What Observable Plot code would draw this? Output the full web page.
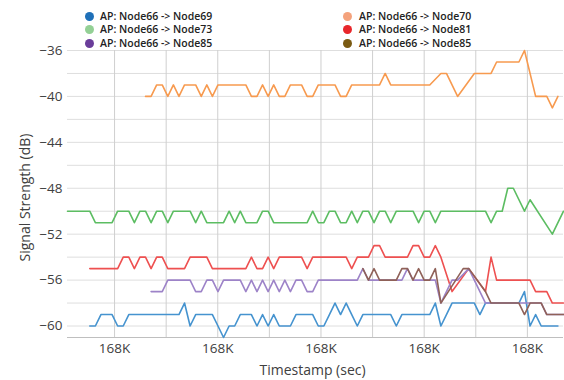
<!DOCTYPE html>
<html><head><meta charset="utf-8">
<script src="https://cdn.jsdelivr.net/npm/d3@7"></script>
<script src="https://cdn.jsdelivr.net/npm/@observablehq/plot@0.6"></script>
<style>
body{margin:0;background:#fff;font-family:"Open Sans",sans-serif;}
#legend{position:relative;width:564px;height:42px;}
.lab{position:absolute;font-size:10.5px;font-weight:600;color:#222;white-space:nowrap;line-height:12px;}
.dot{position:absolute;width:9px;height:9px;border-radius:50%;}
#chart svg{display:block;}
</style></head><body>
<div id="legend"></div>
<div id="chart"></div>
<script>
// Sample timing (sec)
const t0 = 167995.2, dt = 1.08;
const firstSample = -4, lastSample = 85;

const seriesNames = ["AP: Node66 -> Node69","AP: Node66 -> Node70","AP: Node66 -> Node73","AP: Node66 -> Node81","AP: Node66 -> Node85","AP: Node66 -> Node85"];
const lineColors   = ["#4593cf","#f79a4f","#5cbd62","#ee5050","#9d83c8","#8f6158"];
const legendColors = ["#1f70b8","#f4a27c","#93d095","#e8262b","#6a3d9a","#7a5a12"];

// Signal strength (dB), one value per sample; null = no sample
const node69Start = 0;
const node69 = [-60,-60,-59,-59,-59,-60,-60,-59,-59,-59,
 -59,-59,-59,-59,-59,-59,-59,-58,-60,-59,
 -59,-59,-59,-60,-61,-60,-60,-59,-59,-59,
 -60,-59,-60,-59,-60,-60,-60,-59,-59,-59,
 -59,-60,-60,-59,-58,-59,-58,-59,-60,-59,
 -59,-59,-59,-59,-59,-60,-59,-59,-59,-59,
 -59,-59,-58,-60,-59,-58,-58,-58,-58,-58,
 -59,-58,-58,-58,-58,-58,-58,-58,-57,-60,
 -59,-60,-60,-60,-60];
const node70Start = 10;
const node70 = [-40,-40,-39,-39,-40,-39,-40,-39,-39,-39,
 -40,-39,-40,-39,-39,-39,-39,-39,-39,-40,
 -40,-39,-40,-39,-40,-40,-39,-39,-39,-40,
 -40,-39,-39,-39,-39,-40,-40,-39,-39,-39,
 -39,-39,-39,-38,-39,-39,-39,-39,-39,-39,
 -39,-39,null,-38,-38,null,-40,null,null,-38,
 -38,-38,-38,-37,-37,-37,-37,-37,-36,null,
 -40,-40,-40,-41,-40];
const node73Start = -4;
const node73 = [-50,-50,-50,-50,-50,
 -51,-51,-51,-51,-50,-50,-50,-51,-50,-50,
 -51,-50,-50,-51,-50,-50,-50,-50,-51,-50,
 -51,-51,-51,-51,-50,-51,-50,-51,-51,-51,
 -50,-50,-51,-51,-51,-51,-51,-51,-51,-50,
 -51,-51,-50,-50,-51,-51,-50,-51,-50,-50,
 -51,-50,-50,-51,-50,-50,-50,-50,-51,-50,
 -50,-51,-50,-50,-50,-50,-50,-50,-50,-50,
 -50,-51,-50,-50,-48,-48,null,-50,-49,null,
 null,null,-52,null,-50];
const node81Start = 0;
const node81 = [-55,-55,-55,-55,-55,-55,-54,-54,-55,-54,
 -54,-55,-54,-54,-55,-55,-55,-55,-54,-54,
 -54,-54,-55,-55,-55,-55,-55,-55,-55,-54,
 -55,-55,-54,-55,-54,-54,-54,-54,-54,-55,
 -54,-54,-54,-54,-54,-54,-54,-55,-54,-54,
 -54,-53,-53,-54,-54,-54,-54,-54,-53,-53,
 -54,-54,-53,-54,null,-57,null,null,-55,null,
 null,-57,-54,-56,-56,-56,-56,-56,-56,-56,
 -57,-57,-57,-58,-58,-58];
const node85aStart = 11;
const node85a = [-57,-57,-57,-56,-56,-56,-56,-56,-57,-57,
 -56,-56,-57,-56,-56,-56,-56,-57,-56,-57,
 -56,-57,-56,-57,-56,-57,-56,-56,-57,-57,
 -56,-56,-56,-56,-56,-56,-56,-56,-55,-56,
 -56,-56,-56,-56,-56,-56,-55,-56,-56,-56,
 -56,-56,-58,null,-56,-56,null,-55,null,null,
 -58,-58,-58,-58,-58,-58,-58,-58,-58,-58,
 -58,-59,-59,-59,-59];
const node85bStart = 49;
const node85b = [-55,-56,-55,-56,-56,-56,-56,-55,-55,-56,
 -55,-56,-56,-55,-58,null,null,null,-55,-55,
 null,null,-57,-58,-58,-58,-58,-58,-58,-59,
 -58,-58,-58,-59,-59,-59,-59];

const yTicks = [-60,-56,-52,-48,-44,-40,-36];
const yGrid = [-60,-58,-56,-54,-52,-50,-48,-46,-44,-42,-40,-38,-36];
const xTicks = [168000,168020,168040,168060,168080];
const xGrid = [168000,168010,168020,168030,168040,168050,168060,168070,168080];

const rows = (start, vals) => vals.map((v, i) => ({t: t0 + (start + i) * dt, v})).filter(d => d.v !== null);
const series = [[node69Start,node69],[node70Start,node70],[node73Start,node73],[node81Start,node81],[node85aStart,node85a],[node85bStart,node85b]];

// legend
const legend = document.getElementById("legend");
const legendOrder = [0,2,4,1,3,5];
legendOrder.forEach((s, k) => {
  const col = Math.floor(k / 3), row = k % 3;
  const cx = col ? 347 : 89, cy = 16 + row * 13.5;
  const dot = document.createElement("div");
  dot.className = "dot";
  dot.style.left = (cx - 4.5) + "px"; dot.style.top = (cy - 4.5) + "px";
  dot.style.background = legendColors[s];
  legend.appendChild(dot);
  const lab = document.createElement("div");
  lab.className = "lab";
  lab.textContent = seriesNames[s];
  lab.style.left = (col ? 359 : 100) + "px"; lab.style.top = (cy - 6.5) + "px";
  legend.appendChild(lab);
});

const chart = Plot.plot({
  width: 564, height: 338,
  marginLeft: 67, marginRight: 1, marginTop: 8, marginBottom: 43,
  style: {fontFamily: "'Open Sans', sans-serif", fontSize: "13.5px", color: "#404040", background: "#fff"},
  x: {domain: [t0 + firstSample * dt, t0 + lastSample * dt]},
  y: {domain: [-61, -36]},
  marks: [
    Plot.gridY(yGrid, {stroke: "#dedede", strokeOpacity: 1}),
    Plot.gridX(xGrid, {stroke: "#cfcfcf", strokeOpacity: 1}),
    Plot.ruleY([-61], {stroke: "#bfbfbf"}),
    Plot.axisY(yTicks, {tickSize: 0, tickPadding: 5, label: null}),
    Plot.axisX(xTicks, {tickSize: 0, tickPadding: 6, label: null, tickFormat: d => Math.round(d / 1000) + "K"}),
    Plot.text(["Timestamp (sec)"], {text: d => d, frameAnchor: "bottom", textAnchor: "middle", lineAnchor: "middle", dx: -3, dy: 33, fontSize: 14, fill: "#404040"}),
    Plot.text(["Signal Strength (dB)"], {text: d => d, frameAnchor: "left", textAnchor: "middle", lineAnchor: "middle", dx: -42, dy: 3.5, rotate: -90, fontSize: 14, fill: "#404040"}),
    ...series.map(([st, vals], i) => Plot.line(rows(st, vals), {x: "t", y: "v", stroke: lineColors[i], strokeWidth: 1.6}))
  ]
});
document.getElementById("chart").appendChild(chart);
</script></body></html>
